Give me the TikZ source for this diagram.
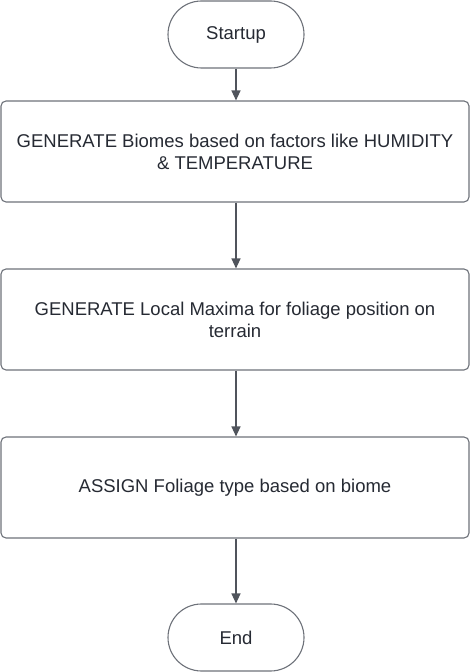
\documentclass[tikz,border=0pt]{standalone}
\usepackage{fontspec}
\setmainfont{Liberation Sans}
\usetikzlibrary{arrows.meta}
\definecolor{bordc}{HTML}{6E727A}
\definecolor{txtc}{HTML}{262A33}
\definecolor{arrc}{HTML}{50545C}
\tikzset{
  x=1pt,y=1pt,
  term/.style={draw=bordc, line width=1.1pt, fill=white, minimum width=136pt, minimum height=67pt, rounded corners=33.5pt, inner sep=0pt, text=txtc, font=\fontsize{18.5}{22}\selectfont},
  procbox/.style={draw=bordc, line width=1.1pt, fill=white, minimum width=468pt, minimum height=101pt, rounded corners=5pt, inner sep=0pt, text=txtc, align=center, font=\fontsize{18.5}{22}\selectfont},
  flow/.style={draw=arrc, line width=1.3pt, -{Triangle[length=10pt,width=9pt]}}
}
\begin{document}
\begin{tikzpicture}
\useasboundingbox (0,0) rectangle (470,672);
\node[term] (start) at (236,637.5) {Startup};
\node[procbox] (b1) at (235,520.5) {GENERATE Biomes based on factors like HUMIDITY\\\& TEMPERATURE};
\node[procbox] (b2) at (235,352.5) {GENERATE Local Maxima for foliage position on\\terrain};
\node[procbox] (b3) at (235,184.5) {ASSIGN Foliage type based on biome};
\node[term] (end) at (236,34.5) {End};
\draw[flow] (start.south) -- (start.south |- b1.north);
\draw[flow] (b1.south -| start.south) -- (start.south |- b2.north);
\draw[flow] (b2.south -| start.south) -- (start.south |- b3.north);
\draw[flow] (b3.south -| start.south) -- (end.north);
\end{tikzpicture}
\end{document}
